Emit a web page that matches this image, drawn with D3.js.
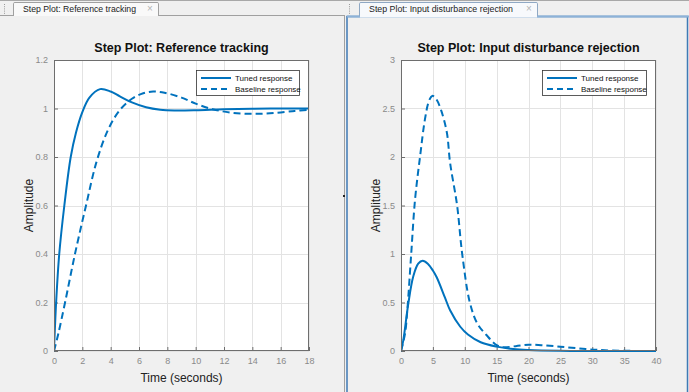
<!DOCTYPE html>
<html>
<head>
<meta charset="utf-8">
<script src="https://cdn.jsdelivr.net/npm/d3@7"></script>
<style>
  body { margin: 0; background: #f0f0f0; }
  svg { display: block; font-family: "Liberation Sans", Arial, sans-serif; }
</style>
</head>
<body>
<div id="display"></div>
<script>
var width = 689, height = 392;

// reference tracking
var refTunedT = [0, 0.15, 0.37, 0.73, 1.18, 1.55, 2.0, 2.5, 3.25, 4.0, 4.65, 5.5, 6.5, 7.5, 8.5, 10, 12, 14, 16, 18];
var refTunedY = [0, 0.2, 0.4, 0.6, 0.8, 0.9, 0.985, 1.045, 1.08, 1.07, 1.05, 1.025, 1.005, 0.995, 0.992, 0.993, 0.997, 0.999, 1.0, 1.0];
var refBaseT = [0, 0.3, 0.78, 1.48, 2.26, 3.0, 3.8, 4.6, 5.5, 6.3, 7.0, 7.8, 9, 10, 11.2, 12.5, 14, 15.5, 17, 18];
var refBaseY = [0, 0.07, 0.2, 0.4, 0.6, 0.78, 0.91, 0.99, 1.04, 1.063, 1.07, 1.065, 1.045, 1.02, 0.997, 0.983, 0.978, 0.981, 0.99, 0.995];

// input disturbance rejection
var distTunedT = [0, 0.36, 1.15, 1.93, 2.7, 3.4, 4.2, 5.0, 5.6, 6.9, 7.7, 9.3, 10.5, 12.5, 15, 17.6, 20, 25, 30, 40];
var distTunedY = [0, 0.11, 0.49, 0.77, 0.9, 0.93, 0.9, 0.83, 0.76, 0.55, 0.42, 0.25, 0.17, 0.09, 0.045, 0.02, 0.01, 0.002, 0, 0];
var distBaseT = [0, 0.63, 1.0, 1.6, 2.2, 3.0, 3.76, 4.4, 4.9, 5.5, 6.3, 7.2, 7.7, 8.8, 9.6, 10.8, 12, 13.4, 15, 16, 18, 20, 22, 25, 29, 33, 40];
var distBaseY = [0, 0.18, 0.43, 1.0, 1.56, 2.01, 2.39, 2.58, 2.63, 2.6, 2.48, 2.25, 1.94, 1.5, 1.0, 0.5, 0.28, 0.165, 0.06, 0.04, 0.05, 0.065, 0.06, 0.045, 0.02, 0.005, 0];

var refXTicks = [0, 2, 4, 6, 8, 10, 12, 14, 16, 18];
var refYTicks = [0, 0.2, 0.4, 0.6, 0.8, 1, 1.2];
var distXTicks = [0, 5, 10, 15, 20, 25, 30, 35, 40];
var distYTicks = [0, 0.5, 1, 1.5, 2, 2.5, 3];

var seriesNames = ["Tuned response", "Baseline response"];
var lineColor = "#0072bd";

var svg = d3.select("#display")
    .append("svg")
    .attr("width", width)
    .attr("height", height);

svg.append("rect").attr("width", width).attr("height", height).attr("fill", "#f0f0f0");

// window chrome: tab strip
svg.append("line").attr("x1", 0).attr("x2", width).attr("y1", 0.5).attr("y2", 0.5).attr("stroke", "#a8a8a8");
svg.append("line").attr("x1", 0).attr("x2", 344).attr("y1", 15.5).attr("y2", 15.5).attr("stroke", "#a0a0a0");
svg.append("line").attr("x1", 344.5).attr("x2", 344.5).attr("y1", 15).attr("y2", height).attr("stroke", "#a0a0a0");

function grip(x) {
    for (var i = 0; i < 5; i++) {
        svg.append("rect").attr("x", x).attr("y", 4 + i * 2.2).attr("width", 1).attr("height", 1).attr("fill", "#9a9a9a");
    }
}
grip(4);
grip(349);

function tab(x, w, label, textW, active) {
    svg.append("path")
        .attr("d", "M" + (x + 0.5) + ",16 L" + (x + 0.5) + ",3.5 Q" + (x + 0.5) + ",2.5 " + (x + 2) + ",2.5 L" + (x + w - 2) + ",2.5 Q" + (x + w - 0.5) + ",2.5 " + (x + w - 0.5) + ",3.5 L" + (x + w - 0.5) + ",16")
        .attr("fill", active ? "#f7f9fc" : "#f9f9f9")
        .attr("stroke", active ? "#8fa8c4" : "#a0a0a0");
    svg.append("text").attr("x", x + 10).attr("y", 12).attr("font-size", 8.5).attr("fill", "#222")
        .attr("textLength", textW).attr("lengthAdjust", "spacingAndGlyphs").text(label);
    svg.append("text").attr("x", x + w - 9).attr("y", 12).attr("font-size", 10).attr("fill", "#b4b4b4").attr("text-anchor", "middle").text("\u00d7");
}
tab(13, 146, "Step Plot: Reference tracking", 113, false);

// right panel with blue border
svg.append("rect").attr("x", 347).attr("y", 16.5).attr("width", 340.5).attr("height", 380)
    .attr("fill", "#f0f0f0").attr("stroke", "#3f7ab5").attr("stroke-width", 1.5);
svg.append("line").attr("x1", 347).attr("x2", 689).attr("y1", 16.5).attr("y2", 16.5).attr("stroke", "#8db2d8").attr("stroke-width", 2);
tab(359, 179, "Step Plot: Input disturbance rejection", 144, true);
svg.append("line").attr("x1", 360).attr("x2", 537).attr("y1", 16.5).attr("y2", 16.5).attr("stroke", "#f7f9fc").attr("stroke-width", 2);

// tiny marker at splitter
svg.append("rect").attr("x", 343).attr("y", 195).attr("width", 2).attr("height", 2).attr("fill", "#222");

function drawPlot(opt) {
    var x = d3.scaleLinear().domain(opt.xDomain).range([opt.left, opt.right]);
    var y = d3.scaleLinear().domain(opt.yDomain).range([opt.bottom, opt.top]);
    var g = svg.append("g");

    g.append("rect").attr("x", opt.left).attr("y", opt.top)
        .attr("width", opt.right - opt.left).attr("height", opt.bottom - opt.top).attr("fill", "#fff");

    // grid
    g.selectAll(".gx").data(opt.xTicks).enter().append("line")
        .attr("x1", d => Math.round(x(d)) + 0.5).attr("x2", d => Math.round(x(d)) + 0.5)
        .attr("y1", opt.top).attr("y2", opt.bottom).attr("stroke", "#e3e3e3");
    g.selectAll(".gy").data(opt.yTicks).enter().append("line")
        .attr("y1", d => Math.round(y(d)) + 0.5).attr("y2", d => Math.round(y(d)) + 0.5)
        .attr("x1", opt.left).attr("x2", opt.right).attr("stroke", "#e3e3e3");

    var xAxis = d3.axisBottom(x).tickValues(opt.xTicks).tickSize(-4).tickPadding(7).tickFormat(d3.format("~g"));
    var yAxis = d3.axisLeft(y).tickValues(opt.yTicks).tickSize(-4).tickPadding(6).tickFormat(d3.format("~g"));
    var xg = g.append("g").attr("transform", "translate(0," + opt.bottom + ")").call(xAxis);
    var yg = g.append("g").attr("transform", "translate(" + opt.left + ",0)").call(yAxis);
    [xg, yg].forEach(function (a) {
        a.select(".domain").remove();
        a.selectAll("line").attr("stroke", "#6e6e6e");
        a.selectAll("text").attr("fill", "#8a8a8a").attr("font-size", 9).attr("font-family", "'Liberation Sans', Arial, sans-serif");
    });

    var line = d3.line().x(d => x(d[0])).y(d => y(d[1])).curve(d3.curveCatmullRom.alpha(0.5));
    var clipId = "clip" + opt.left;
    g.append("clipPath").attr("id", clipId).append("rect")
        .attr("x", opt.left).attr("y", opt.top - 2).attr("width", opt.right - opt.left).attr("height", opt.bottom - opt.top + 4);

    g.append("path").datum(d3.zip(opt.baseT, opt.baseY))
        .attr("d", line).attr("fill", "none").attr("stroke", lineColor)
        .attr("stroke-width", 2).attr("stroke-dasharray", "7,4").attr("clip-path", "url(#" + clipId + ")");
    g.append("path").datum(d3.zip(opt.tunedT, opt.tunedY))
        .attr("d", line).attr("fill", "none").attr("stroke", lineColor)
        .attr("stroke-width", 2).attr("clip-path", "url(#" + clipId + ")");

    // box
    g.append("rect").attr("x", opt.left + 0.5).attr("y", opt.top + 0.5)
        .attr("width", opt.right - opt.left - 1).attr("height", opt.bottom - opt.top - 1)
        .attr("fill", "none").attr("stroke", "#6e6e6e");

    // titles
    g.append("text").attr("x", (opt.left + opt.right) / 2).attr("y", opt.top - 8)
        .attr("text-anchor", "middle").attr("font-weight", "bold").attr("font-size", 12.5).attr("fill", "#111")
        .text(opt.title);
    g.append("text").attr("x", (opt.left + opt.right) / 2).attr("y", opt.bottom + 31)
        .attr("text-anchor", "middle").attr("font-size", 12).attr("fill", "#222").text("Time (seconds)");
    g.append("text").attr("transform", "translate(" + (opt.left - 21) + "," + ((opt.top + opt.bottom) / 2) + ") rotate(-90)")
        .attr("text-anchor", "middle").attr("font-size", 12).attr("fill", "#222").text("Amplitude");

    // legend
    var lg = g.append("g").attr("transform", "translate(" + opt.legendX + "," + (opt.top + 10) + ")");
    lg.append("rect").attr("x", 0.5).attr("y", 0.5).attr("width", opt.legendW).attr("height", 25)
        .attr("fill", "#fff").attr("stroke", "#333").attr("stroke-width", 0.8);
    seriesNames.forEach(function (name, i) {
        var yy = 8 + i * 11;
        lg.append("line").attr("x1", 5).attr("x2", 35).attr("y1", yy).attr("y2", yy)
            .attr("stroke", lineColor).attr("stroke-width", 2).attr("stroke-dasharray", i ? "6,4" : null);
        lg.append("text").attr("x", 39).attr("y", yy + 3).attr("font-size", 8).attr("fill", "#111").text(name);
    });
}

drawPlot({
    left: 54, right: 309, top: 60, bottom: 351,
    xDomain: [0, 18], yDomain: [0, 1.2], xTicks: refXTicks, yTicks: refYTicks,
    tunedT: refTunedT, tunedY: refTunedY, baseT: refBaseT, baseY: refBaseY,
    title: "Step Plot: Reference tracking", legendX: 196, legendW: 103
});

drawPlot({
    left: 401, right: 656, top: 60, bottom: 351,
    xDomain: [0, 40], yDomain: [0, 3], xTicks: distXTicks, yTicks: distYTicks,
    tunedT: distTunedT, tunedY: distTunedY, baseT: distBaseT, baseY: distBaseY,
    title: "Step Plot: Input disturbance rejection", legendX: 542, legendW: 104
});
</script>
</body>
</html>
